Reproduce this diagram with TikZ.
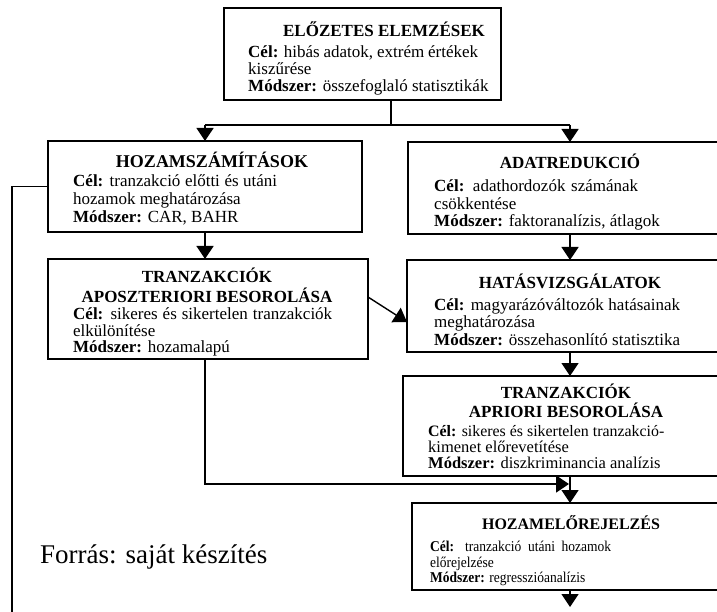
\documentclass[tikz,border=0pt]{standalone}
\usepackage{fontspec}
\setmainfont{Liberation Serif}
\newfontfamily\condfont[FakeStretch=0.9]{Liberation Serif}
\usetikzlibrary{arrows.meta}
\newcommand{\jline}[2]{\makebox[#1][s]{#2}}
\begin{document}
\begin{tikzpicture}[x=1pt,y=-1pt,
  box/.style={draw=black, line width=1.4pt, inner sep=0pt, outer sep=0pt},
  ttl/.style={font=\fontsize{17}{19}\selectfont\bfseries, anchor=base, inner sep=0pt},
  txt/.style={font=\fontsize{17}{19}\selectfont, anchor=base west, inner sep=0pt},
  txtm/.style={font=\fontsize{16.5}{18}\selectfont, anchor=base west, inner sep=0pt},
  ttls/.style={font=\fontsize{16}{18}\selectfont\bfseries, anchor=base, inner sep=0pt},
  txts/.style={font=\condfont\fontsize{15}{17}\selectfont, anchor=base west, inner sep=0pt},
  conn/.style={line width=1.4pt},
  arr/.style={conn, -{Triangle[width=17pt,length=13pt]}}]
\useasboundingbox (0,0) rectangle (717,612);
\clip (0,0) rectangle (717,612);
\fill[white] (0,0) rectangle (717,612);

% boxes
\node[box, minimum width=277pt, minimum height=92pt] (pre) at (362.5,54) {};
\node[box, minimum width=314pt, minimum height=91pt] (hsz) at (205,186.5) {};
\node[box, minimum width=324pt, minimum height=92pt] (adat) at (570,188) {};
\node[box, minimum width=320pt, minimum height=100pt] (apo) at (208,309) {};
\node[box, minimum width=326pt, minimum height=92pt] (hat) at (570,306) {};
\node[box, minimum width=334pt, minimum height=100pt] (apr) at (570,426) {};
\node[box, minimum width=316pt, minimum height=87pt] (hoz) at (570,546.5) {};

% texts: top box
\node[ttl] (pre-t) at (384,37) {ELŐZETES ELEMZÉSEK};
\node[txt] (pre-1) at (248,58) {\jline{230pt}{\textbf{Cél:} hibás adatok, extrém értékek}};
\node[txt] (pre-2) at (248,75) {kiszűrése};
\node[txt] (pre-3) at (248,92) {\textbf{Módszer:} összefoglaló statisztikák};

% HOZAMSZÁMÍTÁSOK
\node[ttl, font=\fontsize{18}{20}\selectfont\bfseries] (hsz-t) at (212,168) {HOZAMSZÁMÍTÁSOK};
\node[txt] (hsz-1) at (73,187) {\jline{204pt}{\textbf{Cél:} tranzakció előtti és utáni}};
\node[txt] (hsz-2) at (73,205) {hozamok meghatározása};
\node[txt] (hsz-3) at (73,223) {\textbf{Módszer:} CAR, BAHR};

% ADATREDUKCIÓ
\node[ttl] (adat-t) at (570,169) {ADATREDUKCIÓ};
\node[txt] (adat-1) at (434,192) {\jline{204pt}{\textbf{Cél:} adathordozók számának}};
\node[txt] (adat-2) at (434,210) {csökkentése};
\node[txt] (adat-3) at (434,227) {\textbf{Módszer:} faktoranalízis, átlagok};

% APOSZTERIORI
\node[ttl] (apo-t1) at (207,283) {TRANZAKCIÓK};
\node[ttl] (apo-t2) at (207,302) {APOSZTERIORI BESOROLÁSA};
\node[txt] (apo-1) at (73,319) {\jline{259pt}{\textbf{Cél:} sikeres és sikertelen tranzakciók}};
\node[txt] (apo-2) at (73,336) {elkülönítése};
\node[txt] (apo-3) at (73,352) {\textbf{Módszer:} hozamalapú};

% HATÁSVIZSGÁLATOK
\node[ttl] (hat-t) at (570,288) {HATÁSVIZSGÁLATOK};
\node[txt] (hat-1) at (434,310) {\jline{246pt}{\textbf{Cél:} magyarázóváltozók hatásainak}};
\node[txt] (hat-2) at (434,327) {meghatározása};
\node[txt] (hat-3) at (434,345) {\textbf{Módszer:} összehasonlító statisztika};

% APRIORI
\node[ttl] (apr-t1) at (566,398) {TRANZAKCIÓK};
\node[ttl] (apr-t2) at (566,417) {APRIORI BESOROLÁSA};
\node[txtm, font=\fontsize{15.9}{18}\selectfont] (apr-1) at (428,436) {\textbf{Cél:} sikeres és sikertelen tranzakció-};
\node[txtm] (apr-2) at (428,452) {kimenet előrevetítése};
\node[txtm] (apr-3) at (428,468) {\textbf{Módszer:} diszkriminancia analízis};

% HOZAMELŐREJELZÉS
\node[ttls] (hoz-t) at (571,529) {HOZAMELŐREJELZÉS};
\node[txts] (hoz-1) at (430,551) {\jline{181pt}{\textbf{Cél:} tranzakció utáni hozamok}};
\node[txts] (hoz-2) at (430,567) {előrejelzése};
\node[txts] (hoz-3) at (430,582) {\textbf{Módszer:} regresszióanalízis};

% source
\node[font=\fontsize{27}{30}\selectfont, anchor=base west, inner sep=0pt] (src) at (40,563) {Forrás: saját készítés};

% connectors
\coordinate (j0) at (391,125);
\coordinate (jl) at (205,125);
\coordinate (jr) at (570,125);
\coordinate (c1) at (205,484);
\coordinate (c2) at (569,484);
\coordinate (c3) at (570,607);
\coordinate (c4) at (12,186.5);
\coordinate (c5) at (12,616);

\draw[conn] (j0 |- pre.south) -- (j0);
\draw[conn] (jl) -- (jr);
\draw[arr] (jl) -- (jl |- hsz.north);
\draw[arr] (jr) -- (jr |- adat.north);
\draw[arr] (hsz.south) -- (hsz.south |- apo.north);
\draw[arr] (adat.south) -- (adat.south |- hat.north);
\draw[arr] ([yshift=12pt]apo.east) -- ([yshift=-16pt]hat.west);
\draw[arr] (hat.south) -- (hat.south |- apr.north);
\draw[arr] (hsz.south |- apo.south) -- (c1) -- (c2);
\draw[arr] (apr.south) -- (apr.south |- hoz.north);
\draw[arr] (hoz.south) -- (c3);
\draw[conn] (hsz.west) -- (c4) -- (c5);
\end{tikzpicture}
\end{document}
